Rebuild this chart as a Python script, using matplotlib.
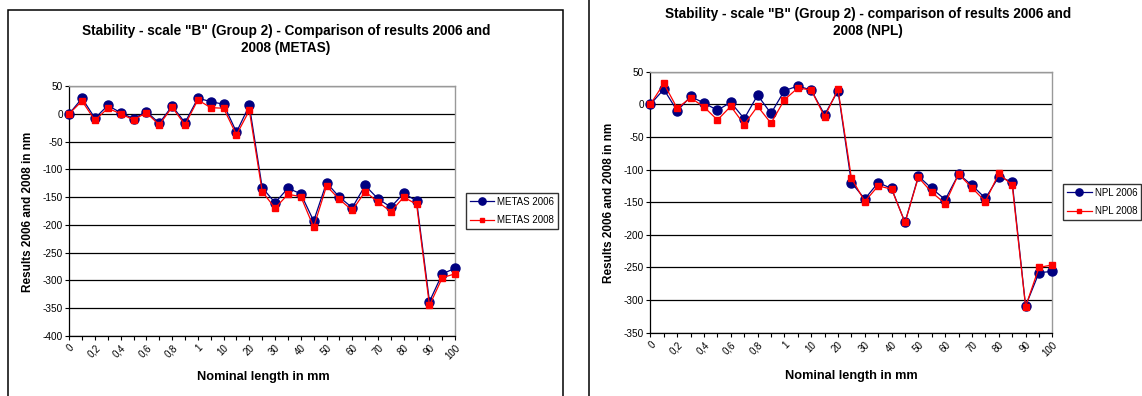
import matplotlib
matplotlib.use('Agg')
import matplotlib.pyplot as plt
from matplotlib.patches import Rectangle

# categories (nominal length in mm), only every other one is labelled
categories = ["0", "0,1", "0,2", "0,3", "0,4", "0,5", "0,6", "0,7", "0,8", "0,9", "1",
              "5", "10", "15", "20", "25", "30", "35", "40", "45", "50",
              "55", "60", "65", "70", "75", "80", "85", "90", "95", "100"]

metas_2006 = [0, 28, -8, 15, 2, -9, 4, -17, 14, -16, 28, 22, 17, -33, 15,
              -133, -160, -134, -144, -193, -124, -150, -169, -129, -153,
              -168, -143, -157, -338, -288, -278]
metas_2008 = [0, 23, -12, 10, 0, -11, 2, -20, 12, -20, 25, 11, 10, -38, 6,
              -140, -170, -145, -149, -204, -130, -154, -174, -140, -159,
              -176, -150, -163, -345, -295, -288]

npl_2006 = [0, 23, -10, 12, 2, -9, 3, -22, 14, -14, 21, 28, 22, -16, 21,
            -120, -145, -120, -129, -181, -110, -129, -146, -107, -124,
            -144, -111, -119, -309, -258, -256]
npl_2008 = [0, 32, -6, 10, -4, -24, -3, -31, -3, -29, 7, 25, 22, -19, 23,
            -113, -149, -125, -130, -181, -112, -135, -152, -107, -128,
            -149, -106, -124, -310, -250, -246]

plt.rcParams['font.family'] = ['Liberation Sans', 'DejaVu Sans']
plt.rcParams['axes.unicode_minus'] = False

W, H = 1142, 396
fig = plt.figure(figsize=(W / 100, H / 100), dpi=100)


def fx(px):
    return px / W


def fy(py):
    return 1 - py / H


def draw_panel(rect, s06, s08, names, ylim, title, title_xy, ylab_xy, xlab_xy, leg_xy):
    ax = fig.add_axes(rect)
    x = list(range(len(categories)))
    ax.plot(x, s06, color='#000080', lw=0.9, marker='o', ms=6.5, label=names[0],
            clip_on=False, zorder=3)
    ax.plot(x, s08, color='#ff0000', lw=0.9, marker='s', ms=4.0, label=names[1],
            clip_on=False, zorder=4)
    ax.set_xlim(0, len(categories) - 1)
    ax.set_ylim(*ylim)
    ax.set_yticks(range(ylim[0], ylim[1] + 1, 50))
    ax.set_xticks(x)
    ax.set_xticklabels([c if i % 2 == 0 else "" for i, c in enumerate(categories)],
                       rotation=45, ha='right', rotation_mode='anchor', fontsize=7)
    ax.tick_params(axis='y', labelsize=7.2, length=3, width=0.8, pad=1.5)
    ax.tick_params(axis='x', length=3, width=0.8, pad=2)
    ax.grid(axis='y', color='black', lw=0.9)
    ax.set_axisbelow(True)
    for s in ['top', 'right']:
        ax.spines[s].set_color('#999999')
        ax.spines[s].set_linewidth(1.0)
    for s in ['left', 'bottom']:
        ax.spines[s].set_color('black')
        ax.spines[s].set_linewidth(0.9)
    fig.text(fx(title_xy[0]), fy(title_xy[1]), title, ha='center', va='center',
             fontsize=9.8, fontweight='bold', linespacing=1.3)
    fig.text(fx(ylab_xy[0]), fy(ylab_xy[1]), "Results 2006 and 2008 in nm", rotation=90,
             ha='center', va='center', fontsize=8.5, fontweight='bold')
    fig.text(fx(xlab_xy[0]), fy(xlab_xy[1]), "Nominal length in mm",
             ha='center', va='center', fontsize=9.2, fontweight='bold')
    leg = ax.legend(loc='upper left', bbox_to_anchor=(fx(leg_xy[0]), fy(leg_xy[1])),
                    bbox_transform=fig.transFigure, fontsize=7, frameon=True,
                    fancybox=False, edgecolor='black', handlelength=2.5,
                    borderpad=0.4, labelspacing=0.85, handletextpad=0.3,
                    borderaxespad=0, markerscale=0.8)
    leg.get_frame().set_linewidth(1.0)
    return ax


draw_panel([fx(69.2), fy(336), fx(455.2 - 69.2), (336 - 86) / H],
           metas_2006, metas_2008, ["METAS 2006", "METAS 2008"], (-400, 50),
           'Stability - scale "B" (Group 2) - Comparison of results 2006 and\n2008 (METAS)',
           (286, 39.7), (28.4, 212), (263, 377), (466, 193))

draw_panel([fx(650.4), fy(332.7), fx(1052.4 - 650.4), (332.7 - 71.7) / H],
           npl_2006, npl_2008, ["NPL 2006", "NPL 2008"], (-350, 50),
           'Stability - scale "B" (Group 2) - comparison of results 2006 and\n2008 (NPL)',
           (868, 22.8), (609, 203), (851.4, 376), (1063.4, 184))

# chart frames
fig.patches.append(Rectangle((fx(8), -0.05), fx(563 - 8), fy(10) + 0.05, transform=fig.transFigure,
                             fill=False, edgecolor='black', lw=1.1))
fig.patches.append(Rectangle((fx(589), -0.05), 0.6, 1.1, transform=fig.transFigure,
                             fill=False, edgecolor='black', lw=1.1))

fig.savefig('out.png', dpi=100)
plt.close(fig)
